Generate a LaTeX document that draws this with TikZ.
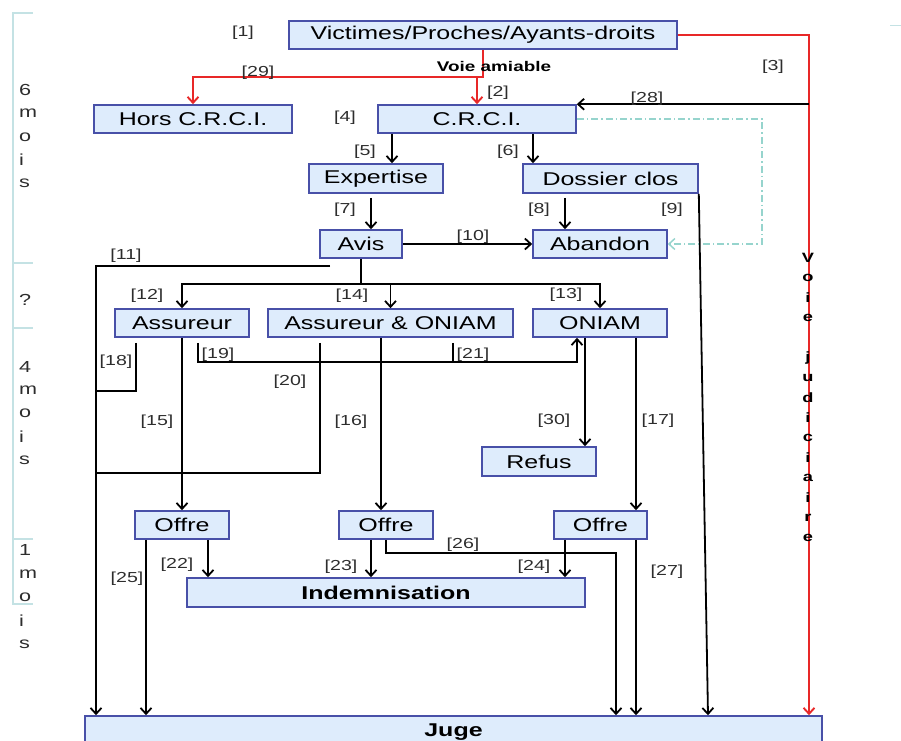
\documentclass[tikz,border=0pt]{standalone}
\usepackage{fontspec}
\setmainfont[FakeStretch=1.35]{Liberation Sans}
\usetikzlibrary{arrows.meta}
\definecolor{boxfill}{RGB}{222,236,252}
\definecolor{boxline}{RGB}{72,80,168}
\definecolor{redline}{RGB}{232,40,40}
\definecolor{lblgray}{RGB}{45,45,45}
\definecolor{scalebar}{RGB}{196,226,228}
\definecolor{dashteal}{RGB}{150,212,205}
\begin{document}
\begin{tikzpicture}[
x=1pt, y=-1pt,
>={Straight Barb[length=6pt,width=11pt]},
box/.style={draw=boxline, fill=boxfill, line width=1.6pt, inner sep=0pt,
  minimum height=28pt, font=\fontsize{18.5}{20}\selectfont},
lbl/.style={text=lblgray, inner sep=0pt, font=\fontsize{14.5}{16}\selectfont},
scaletxt/.style={inner sep=0pt, text=lblgray, font=\fontsize{16}{17}\selectfont},
vlet/.style={inner sep=0pt, font=\bfseries\fontsize{13.5}{14}\selectfont},
link/.style={line width=1.8pt, ->},
redlink/.style={line width=1.9pt, redline, ->},
]
\useasboundingbox (0,0) rectangle (901,740);

% time scale on the left
\draw[scalebar, line width=1.5pt] (33,13) -- (13,13) -- (13,604) -- (33,604);
\foreach \y in {263,328,539}
  \draw[scalebar, line width=1.5pt] (13,\y) -- (33,\y);
\draw[scalebar, line width=1pt] (890,25) -- (901,25);
\foreach \c/\y [count=\i] in {6/90, m/113, o/137, i/160, s/183, ?/300,
    4/367, m/390, o/413, i/437, s/460, 1/550, m/574, o/597, i/621, s/644}
  \node[scaletxt, anchor=west] (s\i) at (19,\y) {\c};

% boxes
\node[box, minimum width=388pt] (vic) at (483,35) {Victimes/Proches/Ayants-droits};
\node[box, minimum width=198pt] (hors) at (193,119) {Hors C.R.C.I.};
\node[box, minimum width=198pt] (crci) at (477,119) {C.R.C.I.};
\node[box, minimum width=134pt, minimum height=29pt] (expertise) at (376,178.5) {Expertise};
\node[box, minimum width=175pt, minimum height=29pt] (dossier) at (610.5,178.5) {Dossier clos};
\node[box, minimum width=82pt] (avis) at (361,244) {Avis};
\node[box, minimum width=134pt] (abandon) at (600,244) {Abandon};
\node[box, minimum width=134pt] (assureur) at (182,323) {Assureur};
\node[box, minimum width=245pt] (assoniam) at (390.5,323) {Assureur \& ONIAM};
\node[box, minimum width=134pt] (oniam) at (600,323) {ONIAM};
\node[box, minimum width=114pt, minimum height=29pt] (refus) at (539,461.5) {Refus};
\node[box, minimum width=94pt] (offre1) at (182,525) {Offre};
\node[box, minimum width=94pt] (offre2) at (386,525) {Offre};
\node[box, minimum width=93pt] (offre3) at (600.5,525) {Offre};
\node[box, minimum width=398pt, minimum height=29pt, font=\bfseries\fontsize{18.5}{20}\selectfont] (indem) at (386,592.5) {Indemnisation};
\node[box, minimum width=737pt, minimum height=32pt, font=\bfseries\fontsize{18.5}{20}\selectfont] (juge) at (453.5,732) {Juge};

% red paths
\draw[redlink] (vic.east) -| (juge.north -| 809,0);
\draw[redlink] (vic.south) -- ++(0,27) -| (hors.north);
\draw[redlink] (vic.south -| 477,0) ++(0,27) -- (crci.north -| 477,0);
\node[font=\bfseries\fontsize{14}{15}\selectfont, inner sep=0pt] (amiable) at (494,66) {Voie amiable};
\foreach \c [count=\i] in {V,o,i,e}
  \node[vlet] (vv\i) at (808,238+20*\i) {\c};
\foreach \c [count=\i] in {j,u,d,i,c,i,a,i,r,e}
  \node[vlet] (vj\i) at (808,338+20*\i) {\c};

% black paths
\draw[link] (crci.north east -| 809,0) -- (crci.north east);
\draw[link, dashteal, line width=1.5pt, dash pattern=on 7pt off 3pt on 1.5pt off 3pt] (crci.east) -- (crci.east -| 762,0) |- (abandon.east);
\draw[link] (crci.south -| 392,0) -- (expertise.north -| 392,0);
\draw[link] (crci.south -| 533,0) -- (dossier.north -| 533,0);
\draw[link] ([yshift=-4]expertise.south -| 371,0) -- (avis.north -| 371,0);
\draw[link] ([yshift=-4]dossier.south -| 565,0) -- (abandon.north -| 565,0);
\draw[link] (dossier.south east) -- (juge.north -| 708,0);
\draw[link] (avis.east) -- (abandon.west);
\draw[link] ([yshift=-7]avis.south -| 330,0) -| (juge.north -| 96,0);
\draw[line width=1.8pt] (avis.south) -- ++(0,25) coordinate (fork);
\draw[link] (fork) -| (assureur.north);
\draw[link] (fork) -| (oniam.north);
\draw[link] (fork -| assoniam.north) -- (assoniam.north);
\draw[line width=1.8pt] ([yshift=-5]assureur.south -| 136,0) |- (96,391);
\draw[link] (assureur.south) -- (offre1.north);
\draw[link] ([yshift=-5]assureur.south -| 198,0) |- ([yshift=-24]oniam.south -| 577,0) -- (oniam.south -| 577,0);
\draw[line width=1.8pt] ([yshift=-5]assoniam.south -| 453,0) -- ([yshift=-24]assoniam.south -| 453,0);
\draw[line width=1.8pt] ([yshift=-5]assoniam.south -| 320,0) |- (96,473);
\draw[link] (assoniam.south -| 381,0) -- (offre2.north -| 381,0);
\draw[link] (oniam.south -| 585,0) -- (refus.north -| 585,0);
\draw[link] (oniam.south -| 636,0) -- (offre3.north -| 636,0);
\draw[link] (offre1.south -| 208,0) -- (indem.north -| 208,0);
\draw[link] (offre1.south -| 146,0) -- (juge.north -| 146,0);
\draw[link] (offre2.south -| 371,0) -- (indem.north -| 371,0);
\draw[link] (offre2.south) -- ++(0,13) -| (juge.north -| 616,0);
\draw[link] (offre3.south -| 565,0) -- (indem.north -| 565,0);
\draw[link] (offre3.south -| 636,0) -- (juge.north -| 636,0);

% step numbers
\foreach \n/\x/\y in {1/243/33, 2/498/93, 3/773/67, 4/345/118, 5/365/152,
    6/508/152, 7/345/210, 8/539/210, 9/672/210, 10/473/237, 11/126/256,
    12/147/296, 13/566/295, 14/352/296, 15/157/422, 16/351/422, 17/658/421,
    18/116/362, 19/218/355, 20/290/382, 21/473/355, 22/177/565, 23/341/567,
    24/534/567, 25/127/579, 26/463/545, 27/667/572, 28/647/99, 29/258/73,
    30/554/421}
  \node[lbl] (n\n) at (\x,\y) {[\n]};
\end{tikzpicture}
\end{document}
